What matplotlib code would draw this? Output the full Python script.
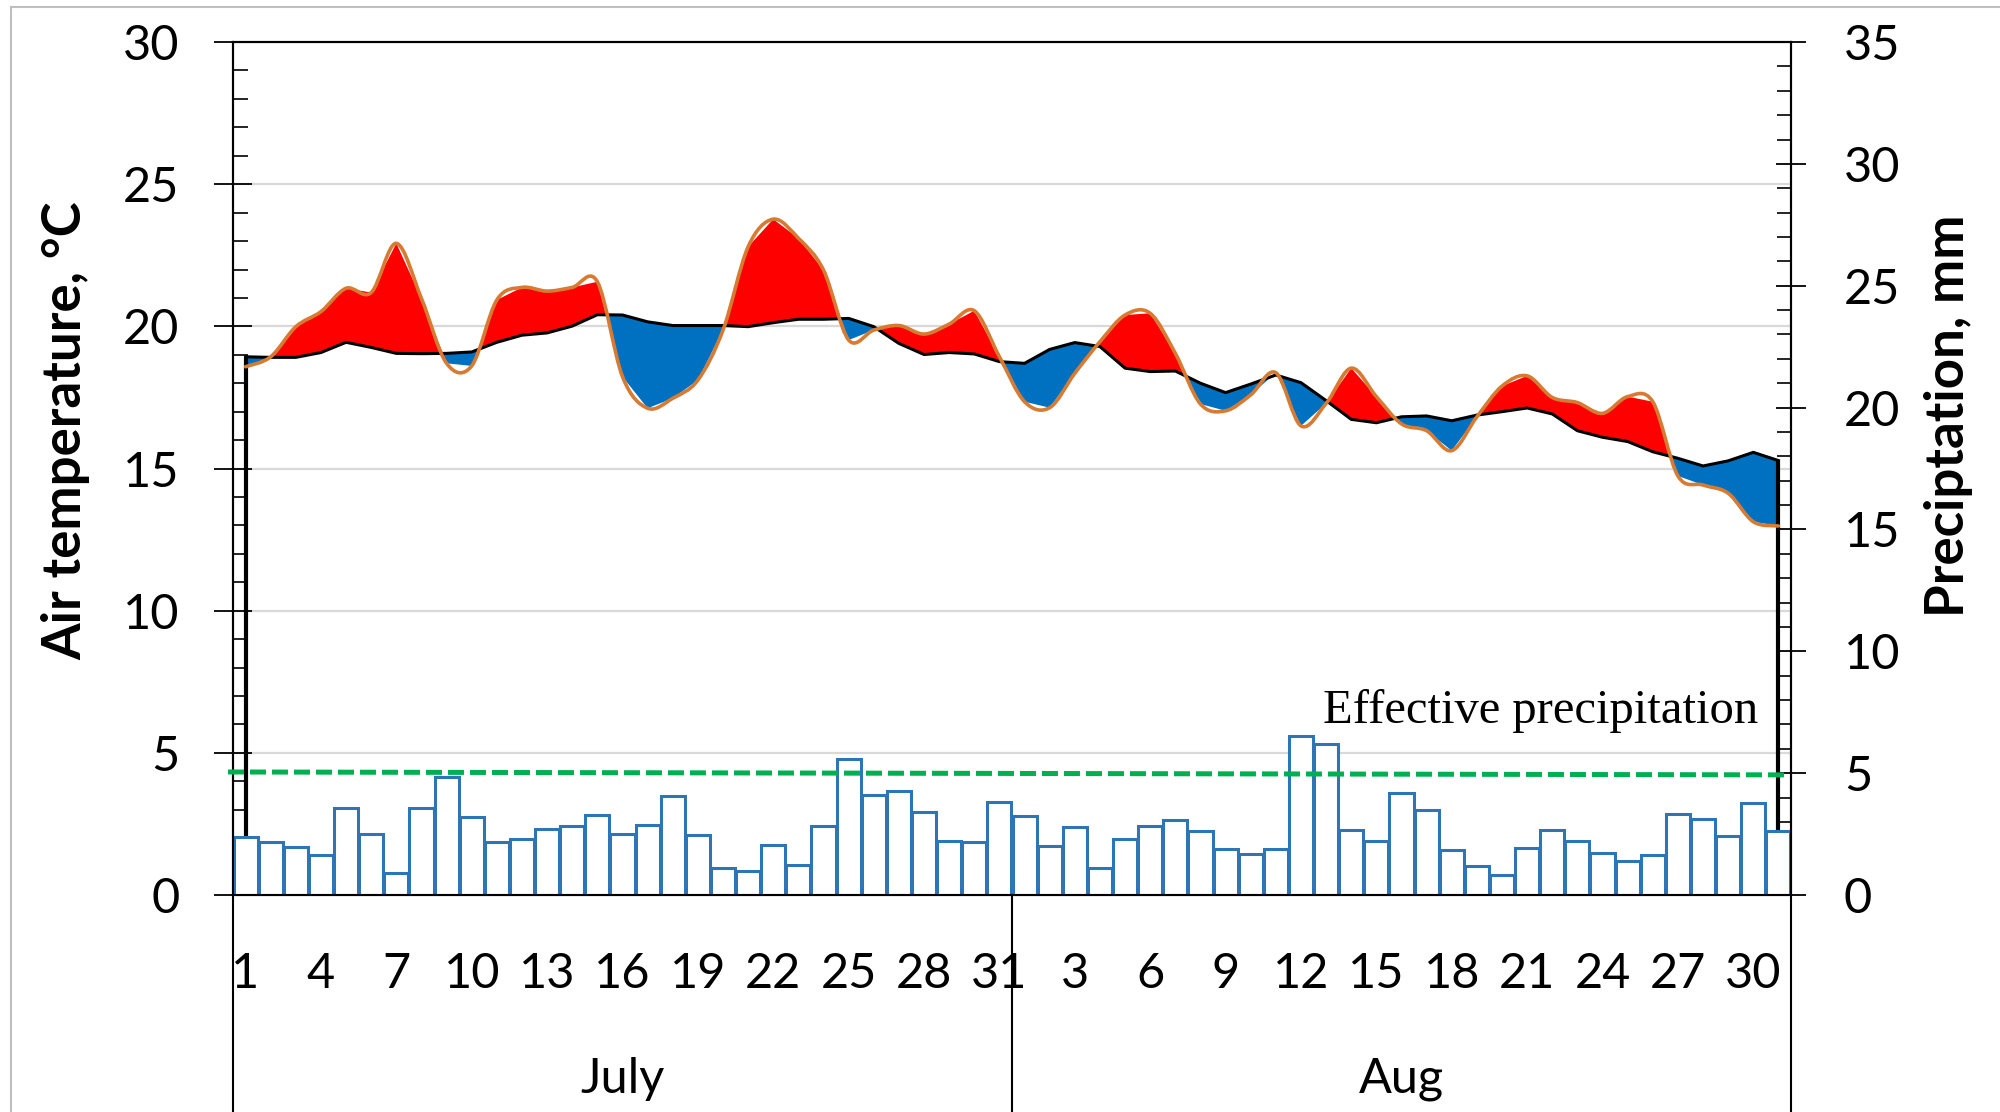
import numpy as np
import matplotlib.pyplot as plt
from matplotlib.path import Path
from matplotlib.patches import PathPatch
from matplotlib.lines import Line2D
from matplotlib.ticker import MultipleLocator

# ---- data ----
month_names = ['July', 'Aug']
july_days = list(range(1, 32))
aug_days = list(range(1, 32))

# daily precipitation, mm (right axis)
precip_july = [2.39, 2.19, 1.96, 1.65, 3.57, 2.52, 0.92, 3.57, 4.83, 3.19,
               2.19, 2.30, 2.71, 2.85, 3.27, 2.50, 2.89, 4.08, 2.48, 1.11,
               1.00, 2.04, 1.23, 2.83, 5.59, 4.10, 4.27, 3.42, 2.23, 2.17, 3.80]
precip_aug = [3.25, 2.00, 2.80, 1.12, 2.30, 2.85, 3.06, 2.61, 1.87, 1.67,
              1.87, 6.54, 6.18, 2.67, 2.23, 4.20, 3.47, 1.86, 1.20, 0.83,
              1.91, 2.68, 2.23, 1.72, 1.38, 1.63, 3.32, 3.10, 2.43, 3.76, 2.61]

# long-term mean air temperature, C (black line)
tnorm_july = [18.93, 18.91, 18.91, 19.08, 19.44, 19.26, 19.05, 19.04, 19.05, 19.10,
              19.44, 19.69, 19.77, 20.01, 20.41, 20.40, 20.16, 20.03, 20.03, 20.03,
              19.99, 20.13, 20.25, 20.25, 20.28, 19.99, 19.40, 19.01, 19.08, 19.03, 18.76]
tnorm_aug = [18.70, 19.19, 19.43, 19.29, 18.53, 18.41, 18.43, 18.00, 17.67, 17.97,
             18.29, 18.02, 17.39, 16.73, 16.61, 16.82, 16.85, 16.68, 16.88, 17.00,
             17.13, 16.92, 16.33, 16.10, 15.95, 15.59, 15.36, 15.09, 15.27, 15.57, 15.28]

# observed air temperature, C (orange line)
tact_july = [18.58, 18.93, 19.99, 20.52, 21.34, 21.19, 22.92, 20.98, 18.70, 18.61,
             20.93, 21.37, 21.24, 21.37, 21.57, 18.23, 17.12, 17.47, 18.11, 19.87,
             22.80, 23.77, 23.10, 21.98, 19.52, 19.87, 20.03, 19.73, 20.08, 20.55, 18.93]
tact_aug = [17.35, 17.14, 18.35, 19.46, 20.40, 20.46, 19.05, 17.27, 17.03, 17.59,
            18.37, 16.50, 17.29, 18.53, 17.53, 16.57, 16.33, 15.63, 16.82, 17.90,
            18.26, 17.50, 17.32, 16.94, 17.53, 17.35, 14.74, 14.42, 14.13, 13.13, 12.98]

effective_precip = [5.05, 4.93]   # level at start / end, mm

days = july_days + aug_days
precip = np.array(precip_july + precip_aug)
t_norm = np.array(tnorm_july + tnorm_aug)
t_act = np.array(tact_july + tact_aug)
x = np.arange(len(days))
n_july = len(july_days)


def smooth_path(xs, ys):
    # Excel-like smoothed line: cubic bezier through every point
    pts = np.column_stack([xs, ys]).astype(float)
    n = len(pts)
    verts = [pts[0]]
    codes = [Path.MOVETO]
    for i in range(n - 1):
        p0 = pts[max(i - 1, 0)]
        p1 = pts[i]
        p2 = pts[i + 1]
        p3 = pts[min(i + 2, n - 1)]
        verts += [p1 + (p2 - p0) / 6, p2 - (p3 - p1) / 6, p2]
        codes += [Path.CURVE4] * 3
    return Path(verts, codes)


plt.rcParams['font.family'] = ['Lato', 'DejaVu Sans']

fig = plt.figure(figsize=(20, 11.12), dpi=100)
ax1 = fig.add_axes([0.1165, 0.1951, 0.779, 0.7671])
ax2 = ax1.twinx()

# ---- temperature (left axis) ----
ax1.set_xlim(-0.5, len(x) - 0.5)
ax1.set_ylim(0, 30)
ax1.yaxis.grid(True, color='#D9D9D9', lw=1.6)
ax1.set_axisbelow(True)

ax1.fill_between(x, t_norm, t_act, where=t_act >= t_norm, interpolate=True,
                 color='#FF0000', lw=0, zorder=2)
ax1.fill_between(x, t_norm, t_act, where=t_act < t_norm, interpolate=True,
                 color='#0070C0', lw=0, zorder=2)
ax1.plot(x, t_norm, color='black', lw=2.2, zorder=3)
ax1.vlines([x[0], x[-1]], 0, [t_norm[0], t_norm[-1]], color='black', lw=3, zorder=3)
ax1.add_patch(PathPatch(smooth_path(x, t_act), fill=False, edgecolor='#D77B33',
                        lw=2.6, zorder=4, capstyle='round'))

# ---- precipitation (right axis) ----
ax2.set_ylim(0, 35)
ax2.bar(x, precip, width=0.96, facecolor='white', edgecolor='#2E75B6', lw=2.2, zorder=2)
ax2.plot([-0.7, len(x) - 0.6], effective_precip, color='#00B050', lw=3.6,
         dashes=(3.2, 1.2), zorder=3, clip_on=False)
ax2.text(60.2, 7.55, 'Effective precipitation', ha='right', va='center',
         fontsize=35, family='Liberation Serif')

# ---- axes styling ----
for ax in (ax1, ax2):
    for s in ax.spines.values():
        s.set_color('black')
        s.set_linewidth(1.5)

ax1.yaxis.set_major_locator(MultipleLocator(5))
ax1.yaxis.set_minor_locator(MultipleLocator(1))
ax1.tick_params(axis='y', which='major', direction='inout', length=27, width=1.3,
                labelsize=35, pad=25)
ax1.tick_params(axis='y', which='minor', direction='in', length=11, width=1.2)

ax2.yaxis.set_major_locator(MultipleLocator(5))
ax2.yaxis.set_minor_locator(MultipleLocator(1))
ax2.tick_params(axis='y', which='major', direction='inout', length=22, width=1.3,
                labelsize=35, pad=27)
ax2.tick_params(axis='y', which='minor', direction='in', length=10, width=1.2)

tick_pos = [i for i in x if i % 3 == 0]
ax1.set_xticks(tick_pos)
ax1.set_xticklabels([str(days[i]) for i in tick_pos])
ax1.tick_params(axis='x', length=0, labelsize=35, pad=41)

# month separators and names under the axis
trans = ax1.get_xaxis_transform()
for xb in [-0.5, n_july - 0.5, len(x) - 0.5]:
    ax1.plot([xb, xb], [0, -0.3], color='black', lw=1.5, transform=trans, clip_on=False)
ax1.text((n_july - 1) / 2, -0.2157, month_names[0], transform=trans,
         ha='center', va='center', fontsize=35)
ax1.text((n_july + len(x) - 1) / 2, -0.2157, month_names[1], transform=trans,
         ha='center', va='center', fontsize=35)

ax1.set_ylabel('Air temperature, °C', fontsize=38, fontweight='bold', va='center')
ax1.yaxis.set_label_coords(-0.107, 0.544)
ax2.set_ylabel('Preciptation, mm', fontsize=38, fontweight='bold', va='center')
ax2.yaxis.set_label_coords(1.1014, 0.5616)

# chart area border (top and left edges visible)
fig.add_artist(Line2D([11 / 2000, 11 / 2000], [0, 1 - 7 / 1112], color='#BFBFBF',
                      lw=1.5, transform=fig.transFigure))
fig.add_artist(Line2D([11 / 2000, 1], [1 - 7 / 1112, 1 - 7 / 1112], color='#BFBFBF',
                      lw=1.5, transform=fig.transFigure))

fig.savefig('out.png', dpi=100)
